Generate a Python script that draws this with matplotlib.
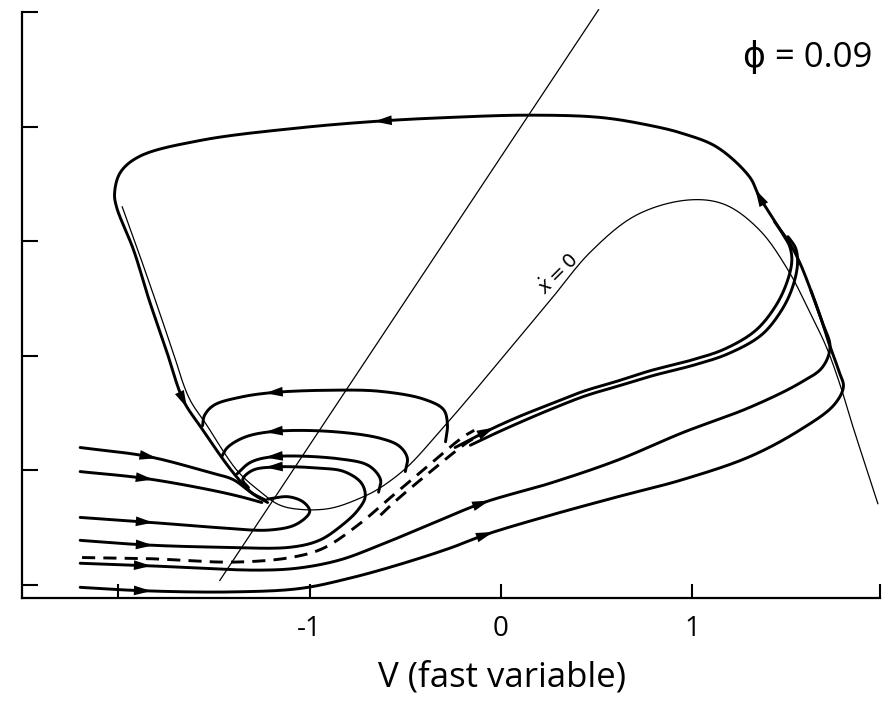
import numpy as np
import matplotlib
matplotlib.use("Agg")
import matplotlib.pyplot as plt

plt.rcParams['font.family'] = ['Open Sans', 'DejaVu Sans']

# ---------------- axis values ----------------
x_ticks = [-2, -1, 0, 1, 1.981]
x_tick_labels = ['', '-1', '0', '1', '']
y_ticks = [0, 1, 2, 3, 4, 5]
x_limits = (-2.504, 1.981)
y_limits = (-0.113, 5.0)
x_label = 'V (fast variable)'
param_label = 'ϕ = 0.09'
nullcline_label = r'$\dot{x}=0$'

# ---------------- nullclines (thin) ----------------
line_v = [-1.47, 0.51]
line_y = [0.04, 5.02]

cubic_v = [-1.98, -1.90, -1.81, -1.72, -1.63, -1.54, -1.38, -1.27, -1.16, -1.05,
           -0.89, -0.72, -0.63, -0.49, -0.32, -0.18, 0.05, 0.26, 0.47, 0.71,
           0.98, 1.17, 1.35, 1.50, 1.62, 1.70, 1.77, 1.84, 1.97]
cubic_y = [3.30, 2.93, 2.50, 2.06, 1.63, 1.40, 1.00, 0.83, 0.70, 0.66,
           0.67, 0.77, 0.85, 1.03, 1.34, 1.61, 2.07, 2.49, 2.91, 3.23,
           3.36, 3.32, 3.10, 2.75, 2.36, 2.08, 1.76, 1.38, 0.71]

# ---------------- limit cycle (thick) ----------------
cycle_v = [-0.24, -0.09, 0.08, 0.26, 0.43, 0.61, 0.78, 0.99, 1.17, 1.33,
           1.43, 1.49, 1.52, 1.51, 1.47, 1.35, 1.30, 1.13, 0.95, 0.78, 0.52,
           0.14, -0.27, -0.62, -1.05, -1.57, -1.89, -1.99, -2.02, -2.01, -1.92,
           -1.84, -1.75, -1.66, -1.57, -1.40, -1.30, -1.22]
cycle_y = [1.20, 1.33, 1.46, 1.58, 1.69, 1.78, 1.87, 1.96, 2.06, 2.22,
           2.42, 2.62, 2.82, 2.95, 3.07, 3.39, 3.56, 3.82, 3.94, 4.01, 4.08,
           4.10, 4.08, 4.05, 3.99, 3.88, 3.74, 3.60, 3.42, 3.30, 2.92,
           2.49, 2.05, 1.61, 1.38, 0.98, 0.80, 0.72]

double_v = [-0.16, -0.06, 0.10, 0.27, 0.44, 0.62, 0.80, 1.01, 1.19, 1.36, 1.46, 1.52, 1.55, 1.54, 1.50]
double_y = [1.22, 1.30, 1.42, 1.54, 1.65, 1.74, 1.83, 1.92, 2.02, 2.18, 2.38, 2.58, 2.80, 2.94, 3.04]

# ---------------- trajectories entering from the left ----------------
t1_v = [-2.20, -1.84, -1.52, -1.40, -1.30, -1.23]
t1_y = [1.20, 1.12, 0.98, 0.92, 0.80, 0.74]
t2_v = [-2.20, -1.86, -1.52, -1.36, -1.25]
t2_y = [0.99, 0.93, 0.83, 0.77, 0.72]
t3_v = [-2.20, -1.86, -1.47, -1.21, -1.07, -1.00, -1.03, -1.11, -1.22]
t3_y = [0.59, 0.55, 0.50, 0.48, 0.53, 0.64, 0.72, 0.77, 0.75]
t4_v = [-2.20, -1.86, -1.47, -1.10, -0.95, -0.84, -0.75, -0.71, -0.73, -0.82,
        -0.95, -1.19, -1.30, -1.35, -1.32]
t4_y = [0.39, 0.35, 0.33, 0.33, 0.39, 0.51, 0.65, 0.77, 0.89, 0.99,
        1.02, 1.03, 1.00, 0.92, 0.85]
t5_v = [-2.20, -1.87, -1.26, -1.05, -0.84, -0.63, -0.37, -0.09, 0.26, 0.61,
        0.95, 1.30, 1.56, 1.68, 1.72, 1.68, 1.62]
t5_y = [0.19, 0.17, 0.13, 0.15, 0.22, 0.35, 0.53, 0.72, 0.89, 1.09,
        1.33, 1.55, 1.76, 1.90, 2.08, 2.29, 2.57]
t6_v = [-2.20, -1.87, -1.40, -1.05, -0.79, -0.53, -0.27, -0.08, 0.26, 0.61,
        0.95, 1.30, 1.56, 1.74, 1.79, 1.77, 1.72, 1.68, 1.62, 1.56, 1.51, 1.43]
t6_y = [-0.02, -0.05, -0.06, -0.03, 0.06, 0.18, 0.32, 0.44, 0.61, 0.77,
        0.92, 1.12, 1.35, 1.57, 1.73, 1.85, 2.08, 2.29, 2.57, 2.82, 2.98, 3.17]

# ---------------- returning arcs ----------------
arc_a_v = [-0.29, -0.28, -0.30, -0.40, -0.63, -0.89, -1.19, -1.36, -1.50, -1.55, -1.56]
arc_a_y = [1.25, 1.40, 1.53, 1.62, 1.69, 1.70, 1.68, 1.64, 1.57, 1.48, 1.39]
arc_b_v = [-0.50, -0.49, -0.53, -0.63, -0.89, -1.19, -1.34, -1.43, -1.46]
arc_b_y = [0.99, 1.11, 1.21, 1.28, 1.34, 1.34, 1.29, 1.20, 1.12]
arc_c_v = [-0.64, -0.63, -0.69, -0.84, -1.19, -1.31, -1.38]
arc_c_y = [0.81, 0.92, 1.04, 1.10, 1.12, 1.07, 0.97]

# ---------------- separatrix (dashed) ----------------
sep_v = [-2.19, -1.84, -1.40, -1.10, -0.93, -0.75, -0.58, -0.41, -0.20, -0.14]
sep_y = [0.24, 0.23, 0.20, 0.24, 0.32, 0.52, 0.76, 1.00, 1.29, 1.35]
sep2_v = [-0.63, -0.56, -0.39, -0.18, -0.11]
sep2_y = [0.61, 0.72, 0.96, 1.24, 1.31]

# ---------------- arrowheads: (curve, V, y) ----------------
arrow_curve = ['cycle', 'cycle', 'cycle', 'cycle', 'arc_a', 'arc_b', 'arc_c', 't4',
               't1', 't2', 't3', 't4', 't5', 't6', 't5', 't6']
arrow_v = [-0.62, 1.35, -1.66, -0.07, -1.19, -1.19, -1.19, -1.19,
           -1.835, -1.86, -1.86, -1.86, -1.87, -1.87, -0.10, -0.08]
arrow_y = [4.05, 3.39, 1.61, 1.33, 1.68, 1.34, 1.12, 1.03,
           1.12, 0.93, 0.55, 0.35, 0.17, -0.05, 0.72, 0.44]

# ---------------- figure ----------------
fig = plt.figure(figsize=(8.94, 7.07), dpi=100)
ax = fig.add_axes([0.0246, 0.1542, 0.9597, 0.8288])
ax.set_xlim(*x_limits)
ax.set_ylim(*y_limits)


def smooth(xs, ys, n=30):
    pts = ax.transData.transform(np.column_stack([xs, ys]))
    P = np.vstack([2 * pts[0] - pts[1], pts, 2 * pts[-1] - pts[-2]])
    out = []
    for i in range(1, len(P) - 2):
        p0, p1, p2, p3 = P[i - 1], P[i], P[i + 1], P[i + 2]

        def tj(ti, a, b):
            return ti + max(np.linalg.norm(b - a), 1e-6) ** 0.5
        t0 = 0.0
        t1 = tj(t0, p0, p1)
        t2 = tj(t1, p1, p2)
        t3 = tj(t2, p2, p3)
        t = np.linspace(t1, t2, n, endpoint=False)[:, None]
        A1 = (t1 - t) / (t1 - t0) * p0 + (t - t0) / (t1 - t0) * p1
        A2 = (t2 - t) / (t2 - t1) * p1 + (t - t1) / (t2 - t1) * p2
        A3 = (t3 - t) / (t3 - t2) * p2 + (t - t2) / (t3 - t2) * p3
        B1 = (t2 - t) / (t2 - t0) * A1 + (t - t0) / (t2 - t0) * A2
        B2 = (t3 - t) / (t3 - t1) * A2 + (t - t1) / (t3 - t1) * A3
        out.append((t2 - t) / (t2 - t1) * B1 + (t - t1) / (t2 - t1) * B2)
    out.append(pts[-1:])
    return ax.transData.inverted().transform(np.vstack(out))


curves = {
    'cycle': smooth(cycle_v, cycle_y),
    'double': smooth(double_v, double_y),
    't1': smooth(t1_v, t1_y), 't2': smooth(t2_v, t2_y),
    't3': smooth(t3_v, t3_y), 't4': smooth(t4_v, t4_y),
    't5': smooth(t5_v, t5_y), 't6': smooth(t6_v, t6_y),
    'arc_a': smooth(arc_a_v, arc_a_y), 'arc_b': smooth(arc_b_v, arc_b_y),
    'arc_c': smooth(arc_c_v, arc_c_y),
}

thick = dict(color='black', lw=2.1, solid_capstyle='round', solid_joinstyle='round')
thin = dict(color='black', lw=0.9)

# nullclines
ax.plot(line_v, line_y, clip_on=False, **thin)
cub = smooth(cubic_v, cubic_y)
ax.plot(cub[:, 0], cub[:, 1], **thin)

for key, c in curves.items():
    ax.plot(c[:, 0], c[:, 1], **thick)

s1 = smooth(sep_v, sep_y)
s2 = smooth(sep2_v, sep2_y)
ax.plot(s1[:, 0], s1[:, 1], color='black', lw=2.1, linestyle=(0, (4.5, 2.8)))
ax.plot(s2[:, 0], s2[:, 1], color='black', lw=2.1, linestyle=(0, (4.5, 2.8)))


def arrow_on(curve, v, y):
    disp = ax.transData.transform(curve)
    target = ax.transData.transform([[v, y]])[0]
    i = int(np.argmin(np.sum((disp - target) ** 2, axis=1)))
    i0, i1 = max(i - 4, 0), min(i + 4, len(curve) - 1)
    d = disp[i1] - disp[i0]
    d = d / np.linalg.norm(d)
    tip = disp[i] + d * 8
    tail = disp[i] - d * 8
    inv = ax.transData.inverted()
    ax.annotate('', xy=inv.transform(tip), xytext=inv.transform(tail),
                arrowprops=dict(arrowstyle='-|>,head_length=1.25,head_width=0.35',
                                mutation_scale=10, color='black', lw=0,
                                shrinkA=0, shrinkB=0))


for name, v, y in zip(arrow_curve, arrow_v, arrow_y):
    arrow_on(curves[name], v, y)

# nullcline label
ax.text(0.30, 2.72, nullcline_label, rotation=45, fontsize=14,
        ha='center', va='center')

# parameter label
ax.text(0.840, 0.906, param_label, transform=ax.transAxes, fontsize=25,
        ha='left', va='baseline')

# axes styling
for s in ['top', 'right']:
    ax.spines[s].set_visible(False)
for s in ['left', 'bottom']:
    ax.spines[s].set_linewidth(1.6)
ax.set_xticks(x_ticks)
ax.set_xticklabels(x_tick_labels, fontsize=20)
ax.set_yticks(y_ticks)
ax.set_yticklabels([])
ax.tick_params(axis='x', direction='in', length=10, width=1.5, pad=12)
ax.tick_params(axis='y', direction='in', length=11.5, width=1.5)
ax.set_xlabel(x_label, fontsize=25)
ax.xaxis.set_label_coords(0.559, -0.106, transform=ax.transAxes)
ax.xaxis.label.set_verticalalignment('top')

fig.savefig('out.png', dpi=100)
